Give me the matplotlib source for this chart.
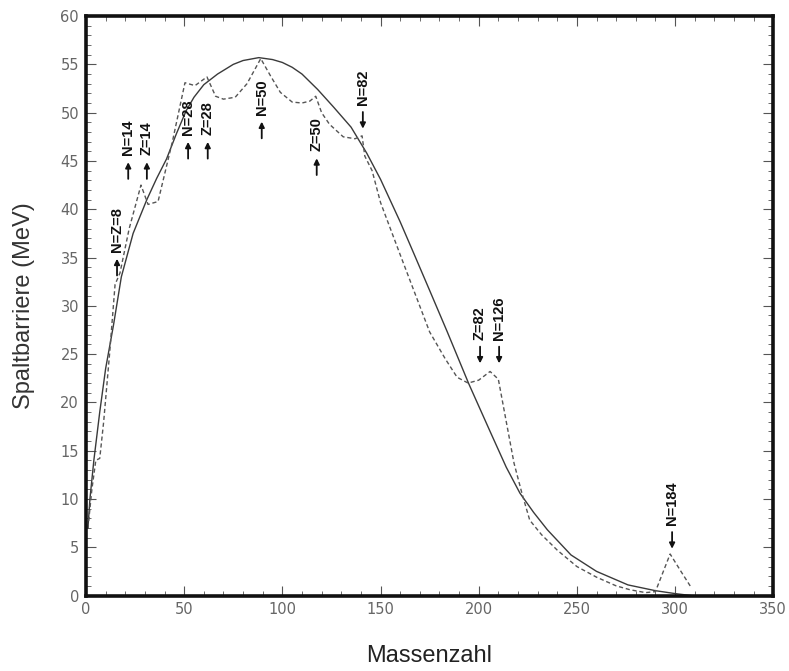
import matplotlib
matplotlib.use("Agg")
import matplotlib.pyplot as plt
from matplotlib.ticker import MultipleLocator
from matplotlib.transforms import offset_copy

# Tröpfchenmodell (durchgezogen)
A_ldm = [1, 2, 4, 7, 10, 14, 18, 24, 31, 36, 41, 46, 51, 55, 60, 67, 75, 80, 88,
         95, 100, 105, 110, 118, 126, 135, 143, 150, 160, 167, 175, 184, 195,
         206, 214, 221, 228, 235, 247, 260, 276, 290, 300, 308]
E_ldm = [7, 10, 14, 19, 23.5, 28, 33, 37.5, 41, 43.2, 45.2, 47.8, 50.2, 51.6,
         52.9, 54.0, 55.0, 55.4, 55.7, 55.5, 55.2, 54.7, 54.0, 52.4, 50.6, 48.5,
         45.8, 43.1, 38.7, 35.4, 31.6, 27.3, 21.9, 16.9, 13.3, 10.6, 8.6, 6.8,
         4.2, 2.5, 1.1, 0.5, 0.2, 0.0]

# mit Schalenkorrektur (gestrichelt)
A_shell = [1, 3, 5, 7, 9, 12, 14.8, 17.3, 22, 28, 31.6, 36.7, 44, 50.4, 55.5,
           61.6, 66, 70, 76, 82, 89, 94, 99, 105, 110, 114, 117, 120, 124, 131,
           137, 140.6, 142, 145.7, 150, 160, 175, 183, 189, 194.6, 200, 205.8,
           210, 214.5, 218, 222, 226, 232, 240, 250, 260, 270, 277, 285, 290,
           297.5, 303, 308]
E_shell = [7, 11, 14, 14.2, 18, 25, 32.2, 33.4, 38, 42.5, 40.5, 40.8, 47, 53.1,
           52.8, 53.7, 51.7, 51.4, 51.6, 53.0, 55.6, 53.8, 52.1, 51.1, 51.0,
           51.2, 51.7, 50.0, 48.8, 47.5, 47.3, 47.6, 45.5, 44.0, 40.7, 35.3,
           27.3, 24.5, 22.6, 22.0, 22.3, 23.2, 22.4, 17.5, 13.7, 10.6, 7.8, 6.3,
           4.7, 3.0, 1.9, 1.0, 0.6, 0.3, 0.4, 4.3, 2.5, 0.9]

# magische Zahlen: Beschriftung, Position (A, unteres Ende in MeV), Pfeilrichtung
magic_labels = ["N=Z=8", "N=14", "Z=14", "N=28", "Z=28", "N=50", "Z=50",
                "N=82", "Z=82", "N=126", "N=184"]
magic_A = [15.8, 21.5, 31, 52, 62, 89.5, 117.5, 141, 200.7, 210.4, 298.5]
magic_E = [33.0, 43.0, 43.0, 45.1, 45.1, 47.2, 43.4, 48.2, 23.9, 23.9, 4.7]
magic_up = [True, True, True, True, True, True, True, False, False, False, False]

fig = plt.figure(figsize=(7.89, 6.71), dpi=100)
ax = fig.add_axes([0.109, 0.1125, 0.871, 0.8635])

ax.plot(A_ldm, E_ldm, color="#3a3a3a", lw=1.0)
ax.plot(A_shell, E_shell, color="#555555", lw=1.0, linestyle=(0, (3, 2)))

arr_len = 12  # Pfeillaenge in pt
for lab, a, e, up in zip(magic_labels, magic_A, magic_E, magic_up):
    # Pfeil unten, Beschriftung darueber (senkrecht)
    head_off, tail_dy = (arr_len + 1, -arr_len) if up else (1, arr_len)
    ax.annotate("", xy=(a, e),
                xycoords=offset_copy(ax.transData, fig=fig, y=head_off, units="points"),
                xytext=(0, tail_dy), textcoords="offset points",
                arrowprops=dict(arrowstyle="-|>", lw=1.3, color="#111111",
                                mutation_scale=8, shrinkA=0, shrinkB=0))
    ax.annotate(lab, xy=(a, e), xytext=(0, 18), textcoords="offset points",
                rotation=90, ha="center", va="bottom", fontsize=10.5,
                fontweight="bold", family="Liberation Sans", color="#111111")

ax.set_xlim(0, 350)
ax.set_ylim(0, 60)
ax.xaxis.set_major_locator(MultipleLocator(50))
ax.xaxis.set_minor_locator(MultipleLocator(10))
ax.yaxis.set_major_locator(MultipleLocator(5))
ax.yaxis.set_minor_locator(MultipleLocator(1))
ax.tick_params(which="both", direction="in", top=True, right=True,
               labelsize=10.5, labelcolor="#666666", color="#555555")
ax.tick_params(which="major", length=7, width=0.8, pad=5)
ax.tick_params(which="minor", length=3.5, width=0.6)
for sp in ax.spines.values():
    sp.set_linewidth(2.6)
    sp.set_color("#111111")

ax.set_xlabel("Massenzahl", fontsize=17, family="Liberation Sans",
              color="#222222", labelpad=20)
ax.set_ylabel("Spaltbarriere (MeV)", fontsize=17, family="Liberation Sans",
              color="#333333", labelpad=18)

fig.savefig("out.png", dpi=100)
